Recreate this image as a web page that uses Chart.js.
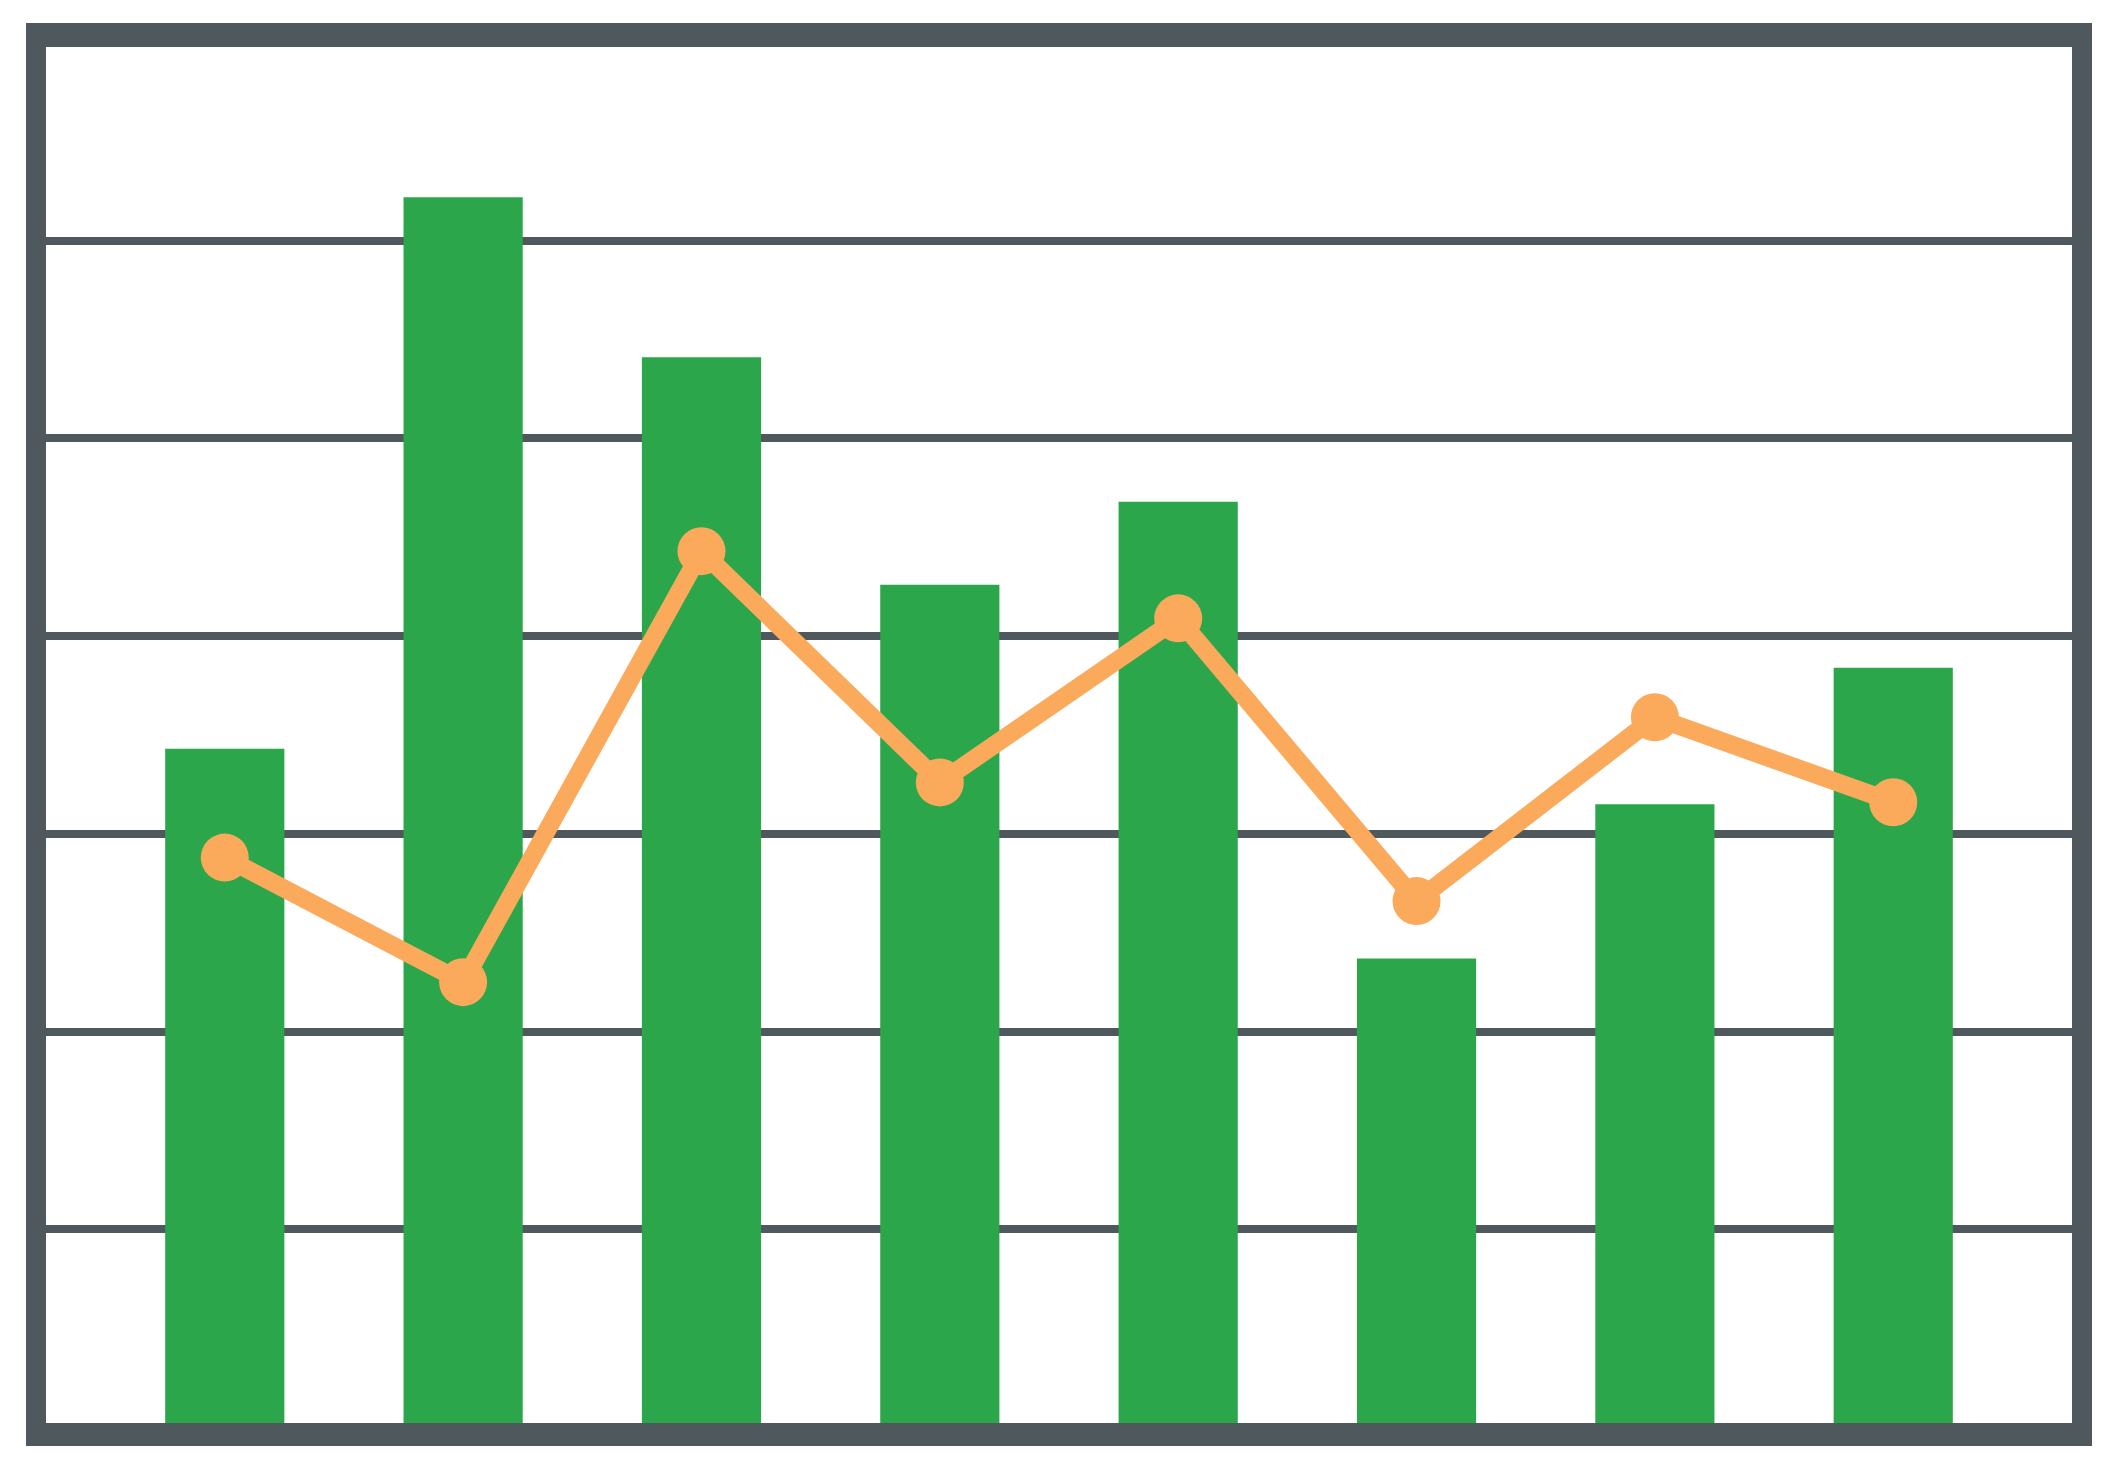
<!DOCTYPE html>
<html lang="en">
<head>
    <meta charset="UTF-8">
    <title>Bars and Line</title>
    <script src="https://cdn.jsdelivr.net/npm/chart.js"></script>
    <style>
        body {
            margin: 0;
            padding: 0;
            background-color: #ffffff;
        }

        .chart-container {
            width: 2122px;
            height: 1470px;
            position: relative;
        }
    </style>
</head>
<body>
    <div class="chart-container">
        <canvas id="comboChart"></canvas>
    </div>

    <script>
        const categories = ['1', '2', '3', '4', '5', '6', '7', '8'];
        const barValues = [34.3, 62.2, 54.1, 42.6, 46.8, 23.7, 31.5, 38.4];
        const lineValues = [28.8, 22.5, 44.3, 32.6, 40.9, 26.6, 35.9, 31.6];
        const yTicks = [0, 10, 20, 30, 40, 50, 60, 70];

        const green = '#2ca64b';
        const orange = '#fbaa5c';
        const slate = '#4f585c';

        // linear x so the categories can sit with the wide side padding of the original
        const toPoints = values => values.map((v, i) => ({ x: i, y: v }));

        // thick frame around the plot area
        const framePlugin = {
            id: 'frame',
            afterDraw(chart) {
                const { ctx, chartArea } = chart;
                ctx.save();
                ctx.strokeStyle = slate;
                ctx.lineWidth = 20;
                ctx.strokeRect(chartArea.left - 10, chartArea.top - 10,
                    chartArea.right - chartArea.left + 20, chartArea.bottom - chartArea.top + 19);
                ctx.restore();
            }
        };

        const ctx = document.getElementById('comboChart').getContext('2d');
        const comboChart = new Chart(ctx, {
            type: 'bar',
            data: {
                datasets: [
                    {
                        type: 'line',
                        label: 'Line',
                        data: toPoints(lineValues),
                        borderColor: orange,
                        backgroundColor: orange,
                        borderWidth: 18,
                        tension: 0,
                        pointRadius: 24,
                        pointHoverRadius: 24,
                        pointBorderWidth: 0,
                        pointBackgroundColor: orange,
                        order: 0
                    },
                    {
                        label: 'Bars',
                        data: toPoints(barValues),
                        backgroundColor: green,
                        borderWidth: 0,
                        barPercentage: 1,
                        categoryPercentage: 0.5,
                        order: 1
                    }
                ]
            },
            options: {
                responsive: true,
                maintainAspectRatio: false,
                animation: false,
                layout: {
                    padding: { left: 46, top: 43, right: 50, bottom: 43 }
                },
                scales: {
                    x: {
                        type: 'linear',
                        offset: false,
                        min: -0.75,
                        max: categories.length - 0.25,
                        // one tick per category so the bar width comes from the category spacing
                        afterBuildTicks: s => { s.ticks = categories.map((c, i) => ({ value: i })); },
                        grid: { display: false, offset: false },
                        ticks: { display: false },
                        border: { display: false },
                        afterFit: s => { s.height = 0; }
                    },
                    y: {
                        min: yTicks[0],
                        max: yTicks[yTicks.length - 1],
                        afterBuildTicks: s => { s.ticks = yTicks.map(v => ({ value: v })); },
                        ticks: { display: false },
                        border: { display: false },
                        grid: {
                            drawTicks: false,
                            color: slate,
                            lineWidth: 8
                        },
                        afterFit: s => { s.width = 0; }
                    }
                },
                plugins: {
                    legend: { display: false },
                    tooltip: { enabled: false }
                }
            },
            plugins: [framePlugin]
        });
    </script>
</body>
</html>
